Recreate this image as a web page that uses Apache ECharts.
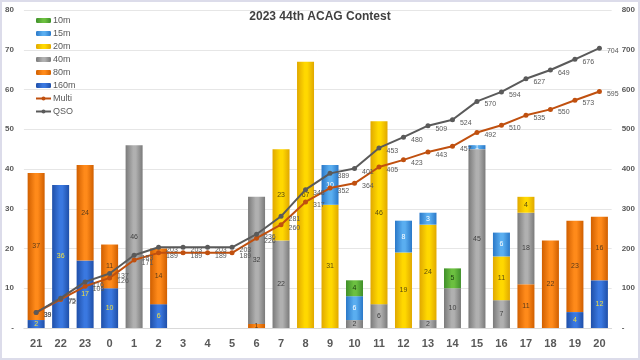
<!DOCTYPE html>
<html><head><meta charset="utf-8">
<script src="https://cdn.jsdelivr.net/npm/echarts@6/dist/echarts.min.js"></script>
<style>html,body{margin:0;padding:0;background:#fff}#c{width:640px;height:360px;box-sizing:border-box;border:2px solid #dcdcea}</style>
</head><body><div id="c"></div>
<script>
const hours = ['21','22','23','0','1','2','3','4','5','6','7','8','9','10','11','12','13','14','15','16','17','18','19','20'];
const band160 = [2,36,17,10,0,6,0,0,0,0,0,0,0,0,0,0,0,0,0,0,0,0,4,12];
const band80  = [37,0,24,11,0,14,0,0,0,1,0,0,0,0,0,0,0,0,0,0,11,22,23,16];
const band40  = [0,0,0,0,46,0,0,0,0,32,22,0,0,2,6,0,2,10,45,7,18,0,0,0];
const band20  = [0,0,0,0,0,0,0,0,0,0,23,67,31,0,46,19,24,0,0,11,4,0,0,0];
const band15  = [0,0,0,0,0,0,0,0,0,0,0,0,10,6,0,8,3,0,1,6,0,0,0,0];
const band10  = [0,0,0,0,0,0,0,0,0,0,0,0,0,4,0,0,0,5,0,0,0,0,0,0];
const multi   = [39,72,105,126,171,189,189,189,189,226,260,317,352,364,405,423,443,457,492,510,535,550,573,595];
const qso     = [39,75,116,137,183,203,203,203,203,236,281,348,389,401,453,480,509,524,570,594,627,649,676,704];

function grad(dark, light){
  return new echarts.graphic.LinearGradient(0,0,1,0,[
    {offset:0,color:dark},{offset:0.45,color:light},{offset:0.6,color:light},{offset:1,color:dark}]);
}
const bands = [
  {name:'160m', data:band160, dark:'#1f4fa8', light:'#3a78e0', lbl:'#f0e040'},
  {name:'80m',  data:band80,  dark:'#d05f00', light:'#ff8a1a', lbl:'#5a3a1a'},
  {name:'40m',  data:band40,  dark:'#7a7a7a', light:'#b0b0b0', lbl:'#404040'},
  {name:'20m',  data:band20,  dark:'#e0a800', light:'#ffd800', lbl:'#5a4a10'},
  {name:'15m',  data:band15,  dark:'#2a78c8', light:'#5aaef0', lbl:'#ffffff'},
  {name:'10m',  data:band10,  dark:'#3f8f2a', light:'#6cc040', lbl:'#1a3a10'}
];
const series = bands.map(b => ({
  name:b.name, type:'bar', stack:'bands', barWidth:17,
  data:b.data.map(v => v === 0 ? null : v),
  itemStyle:{color:grad(b.dark,b.light)},
  label:{show:true, position:'inside', fontSize:7, color:b.lbl, fontFamily:'Liberation Sans'},
  z:2
}));
series.push({
  name:'Multi', type:'line', yAxisIndex:1, data:multi, symbol:'circle', symbolSize:5,
  itemStyle:{color:'#c0500f'}, lineStyle:{color:'#c0500f', width:2},
  label:{show:true, position:'right', offset:[0,3], fontSize:7, color:'#595959', fontFamily:'Liberation Sans'}, z:5
});
series.push({
  name:'QSO', type:'line', yAxisIndex:1, data:qso, symbol:'circle', symbolSize:5,
  itemStyle:{color:'#5a5a5a'}, lineStyle:{color:'#5a5a5a', width:2},
  label:{show:true, position:'right', offset:[0,3], fontSize:7, color:'#595959', fontFamily:'Liberation Sans'}, z:5
});
const axLbl = {fontSize:8, color:'#595959', fontWeight:'bold', fontFamily:'Liberation Sans'};
const chart = echarts.init(document.getElementById('c'), null, {renderer:'canvas'});
chart.setOption({
  animation:false,
  backgroundColor:'#ffffff',
  title:{text:'2023 44th ACAG Contest', left:'center', top:4,
    textStyle:{fontSize:12, fontWeight:'bold', color:'#404040', fontFamily:'Liberation Sans'}},
  legend:{orient:'vertical', left:28, top:9, itemGap:4, itemWidth:15, itemHeight:5,
    data:['10m','15m','20m','40m','80m','160m','Multi','QSO'],
    textStyle:{fontSize:9, color:'#595959', fontFamily:'Liberation Sans', padding:[0,0,0,-3]}},
  grid:{left:21, right:26, top:8, bottom:30},
  xAxis:{type:'category', data:hours,
    axisLine:{lineStyle:{color:'#d9d9d9'}}, axisTick:{show:false},
    axisLabel:{fontSize:11, fontWeight:'bold', color:'#595959', margin:10, fontFamily:'Liberation Sans'}},
  yAxis:[
    {type:'value', min:0, max:80, interval:10,
      axisLabel:Object.assign({margin:10, formatter:v => v===0?'-':v}, axLbl),
      splitLine:{lineStyle:{color:'#e6e6e6'}}, axisLine:{show:false}, axisTick:{show:false}},
    {type:'value', min:0, max:800, interval:100,
      axisLabel:Object.assign({margin:10, formatter:v => v===0?'-':v}, axLbl),
      splitLine:{show:false}, axisLine:{show:false}, axisTick:{show:false}}
  ],
  series:series
});
</script></body></html>
